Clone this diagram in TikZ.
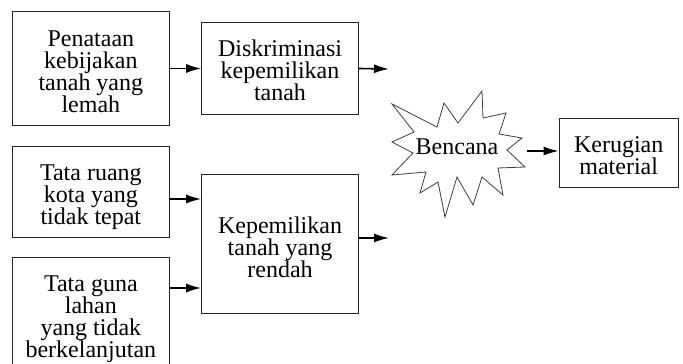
\documentclass[tikz,border=0pt]{standalone}
\usepackage{fontspec}
\setmainfont{Liberation Serif}
\usetikzlibrary{arrows.meta,calc}
\begin{document}
\begin{tikzpicture}[x=1pt,y=-1pt,
  box/.style={draw=black!85, line width=0.9pt, inner sep=0pt},
  txt/.style={align=center, font=\fontsize{24}{22}\selectfont, text=black, inner sep=0pt},
  arr/.style={-{Latex[length=15pt,width=9pt]}, line width=1.6pt, black},
  starline/.style={draw=black!75, line width=0.8pt, fill=white, line join=miter}]
\clip (0,0) rectangle (683,364);
\fill[white] (0,0) rectangle (683,364);
% boxes
\node[box, minimum width=156.3pt, minimum height=114pt] (A) at (90.85,68.7) {};
\node[box, minimum width=156.7pt, minimum height=91.7pt] (B) at (280,68.5) {};
\node[box, minimum width=156.3pt, minimum height=90.6pt] (C) at (90.85,192) {};
\node[box, minimum width=156.3pt, minimum height=124pt] (D) at (90.85,319.3) {};
\node[box, minimum width=156.7pt, minimum height=139.3pt] (E) at (280,243.7) {};
\node[box, minimum width=119.3pt, minimum height=69.3pt] (F) at (618.7,153) {};
% texts
\node[txt] (At) at (90.85,71.3) {Penataan\\kebijakan\\tanah yang\\lemah};
\node[txt] (Bt) at (280,70.6) {Diskriminasi\\kepemilikan\\tanah};
\node[txt] (Ct) at (90.85,196.8) {Tata ruang\\kota yang\\tidak tepat};
\node[txt] (Dt) at (90.85,318.9) {Tata guna\\lahan\\yang tidak\\berkelanjutan};
\node[txt] (Et) at (280,247) {Kepemilikan\\tanah yang\\rendah};
\node[txt] (Ft) at (618.7,155.4) {Kerugian\\material};
% star
\draw[starline] (392,104) -- (437,127) -- (444,103) -- (458,123) -- (482,91) -- (483,118)
  -- (506,113) -- (499,134) -- (522,138) -- (507,150) -- (525,167) -- (498,168)
  -- (503,195) -- (482,177) -- (473,205) -- (457,177) -- (445,217) -- (438,182)
  -- (420,193) -- (426,172) -- (392,175) -- (413,153) -- (392,142) -- (414,132) -- cycle;
\node[txt] (S) at (457,147) {Bencana};
\coordinate (Sr) at (527,151);
\coordinate (bEnd) at (389,69);
\coordinate (eEnd) at (389,238);
% arrows
\draw[arr] (A.east |- B.west) -- (B.west);
\draw[arr] (B.east) -- (bEnd);
\coordinate (c1) at (C.east |- 0,199);
\draw[arr] (c1) -- (c1 -| E.west);
\coordinate (d1) at (D.east |- 0,288);
\draw[arr] (d1) -- (d1 -| E.west);
\draw[arr] (E.east |- eEnd) -- (eEnd);
\draw[arr] (Sr) -- (Sr -| F.west);
\end{tikzpicture}
\end{document}
